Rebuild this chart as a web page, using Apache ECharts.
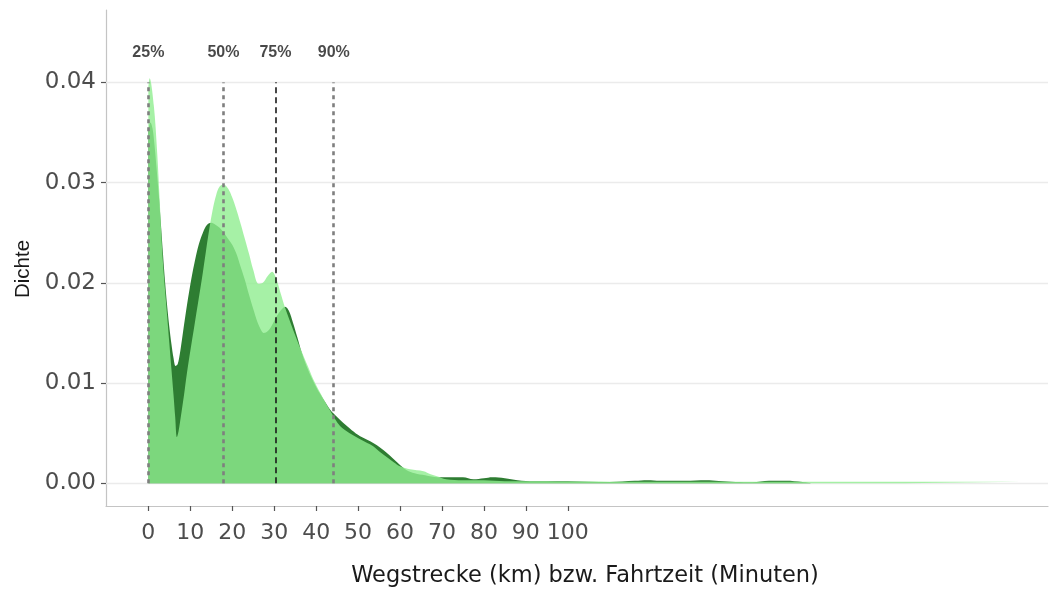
<!DOCTYPE html>
<html>
<head>
<meta charset="utf-8">
<script src="https://cdn.jsdelivr.net/npm/echarts@6/dist/echarts.min.js"></script>
<style>
  html, body { margin: 0; padding: 0; background: #ffffff; }
  #chart { width: 1051px; height: 593px; }
</style>
</head>
<body>
<div id="chart"></div>
<script>
// Kernel density of trip distance (dark) — [value, density]
const densityDark = [
  [0, 0.0352], [0.5, 0.0360], [1.0, 0.0354], [1.5, 0.0336], [2.0, 0.0312],
  [2.5, 0.0287], [3.0, 0.0258], [3.5, 0.0228], [4.0, 0.0200], [4.5, 0.0176],
  [5.0, 0.0156], [5.5, 0.0139], [6.0, 0.0125], [6.5, 0.0117], [7.0, 0.0119],
  [7.5, 0.0129], [8.0, 0.0143], [9.0, 0.0172], [10.0, 0.0198], [11.0, 0.0220],
  [12.0, 0.0238], [13.0, 0.0250], [14.0, 0.0258], [15.0, 0.0260], [16.0, 0.0258],
  [17.0, 0.0255], [18.0, 0.0250], [19.0, 0.0244], [20.0, 0.0238], [21.0, 0.0229],
  [22.0, 0.0216], [23.0, 0.0203], [24.0, 0.0188], [25.0, 0.0174], [26.0, 0.0161],
  [27.0, 0.0152], [27.5, 0.0150], [28.5, 0.0152], [29.5, 0.0158], [30.5, 0.0166],
  [31.5, 0.0172], [32.6, 0.0176], [33.5, 0.0172], [34.5, 0.0160], [35.5, 0.0146],
  [36.6, 0.0130], [38.0, 0.0114], [40.0, 0.0096], [42.0, 0.0082], [43.4, 0.0073],
  [45.0, 0.0066], [46.5, 0.0060], [48.5, 0.0053], [50.5, 0.0047], [52.9, 0.0042],
  [54.5, 0.0038], [56.1, 0.0033], [57.5, 0.0028], [59.3, 0.0021], [61.6, 0.0013],
  [63.5, 0.0010], [66, 0.0008], [69, 0.0006], [72, 0.0006], [75, 0.0006],
  [77.5, 0.0004], [80, 0.0005], [82, 0.0006], [85, 0.0005], [88, 0.0003],
  [92, 0.0002], [100, 0.0002], [110, 0.00012], [116, 0.00024], [119, 0.0003],
  [122, 0.00024], [128, 0.00024], [133, 0.0003], [136, 0.00022], [140, 0.00012],
  [144, 0.0001], [148, 0.00024], [152, 0.00024], [156, 0.00012], [158, 0]
];

// Kernel density of travel time (light) — [value, density]
const densityLight = [
  [0, 0.0395], [0.3, 0.0404], [1.3, 0.0377], [2.1, 0.0330], [2.7, 0.0282],
  [3.3, 0.0232], [3.8, 0.0202], [4.5, 0.0166], [5.0, 0.0140], [5.5, 0.0114],
  [6.0, 0.0088], [6.4, 0.0066], [6.8, 0.0046], [7.2, 0.0052], [7.8, 0.0068],
  [8.5, 0.0088], [9.2, 0.0110], [10.0, 0.0132], [11.0, 0.0158], [12.0, 0.0184],
  [12.8, 0.0205], [13.5, 0.0225], [14.2, 0.0245], [15.2, 0.0270], [16.2, 0.0288],
  [17.0, 0.0296], [17.9, 0.0298], [19.0, 0.0294], [20.0, 0.0285], [21.0, 0.0273],
  [22.0, 0.0259], [23.0, 0.0244], [24.0, 0.0229], [25.0, 0.0213], [26.3, 0.0199],
  [27.3, 0.0200], [28.5, 0.0207], [29.5, 0.0211], [30.5, 0.0204], [31.5, 0.0190],
  [32.6, 0.0175], [34.0, 0.0159], [36.2, 0.0135], [38.0, 0.0117], [39.4, 0.0103],
  [41.0, 0.0090], [43.4, 0.0072], [45.7, 0.0057], [48.0, 0.0050], [50.5, 0.0044],
  [53.6, 0.0037], [55.3, 0.0031], [56.9, 0.0026], [58.5, 0.0021], [60.0, 0.0017],
  [62.4, 0.0014], [65.6, 0.0012], [67.3, 0.0009], [68.8, 0.0007], [71, 0.0004],
  [75, 0.0003], [80, 0.0003], [85, 0.0002], [90, 0.0002], [100, 0.00018],
  [120, 0.00016], [150, 0.00016], [180, 0.00015], [207.8, 0.00015]
];

// Quantile markers
const quantileValues = [0, 17.9, 30.3, 44.2];
const quantileLabels = ['25%', '50%', '75%', '90%'];
const quantileLabelY = 0.0430;
const quantileTop = 0.04;

// Axis ticks
const xTicks = [0, 10, 20, 30, 40, 50, 60, 70, 80, 90, 100];
const yTicks = [0, 0.01, 0.02, 0.03, 0.04];

const wideFont = 'DejaVu Sans';
const narrowFont = 'Liberation Sans';

const quantileStyles = quantileLabels.map(function (q) {
  return q === '75%'
    ? { color: '#1a1a1a', width: 1.6, type: [6, 4] }
    : { color: '#7f7f7f', width: 2.6, type: [4, 4] };
});

const chart = echarts.init(document.getElementById('chart'), null, { renderer: 'canvas' });

chart.setOption({
  animation: false,
  backgroundColor: '#ffffff',
  grid: { left: 106, right: 3, top: 10, bottom: 81.5, containLabel: false },
  xAxis: {
    type: 'value',
    min: -10.1,
    max: 214.5,
    name: 'Wegstrecke (km) bzw. Fahrtzeit (Minuten)',
    nameLocation: 'middle',
    nameGap: 59,
    nameTextStyle: { fontFamily: wideFont, fontSize: 22.5, color: '#1a1a1a', padding: [0, 0, 0, 16] },
    axisLine: { onZero: false, lineStyle: { color: '#c4c4c4', width: 1.2 } },
    axisTick: { show: true, length: 5, customValues: xTicks, lineStyle: { color: '#555555', width: 1.2 } },
    axisLabel: {
      customValues: xTicks,
      margin: 16,
      fontFamily: wideFont,
      fontSize: 22,
      color: '#4d4d4d'
    },
    splitLine: { show: false }
  },
  yAxis: {
    type: 'value',
    min: -0.00227,
    max: 0.04722,
    name: 'Dichte',
    nameLocation: 'middle',
    nameGap: 72,
    nameRotate: 90,
    nameTextStyle: { fontFamily: narrowFont, fontSize: 20.5, color: '#1a1a1a', padding: [0, 22, 0, 0] },
    axisLine: { onZero: false, lineStyle: { color: '#c4c4c4', width: 1.2 } },
    axisTick: { show: true, length: 5, customValues: yTicks, lineStyle: { color: '#555555', width: 1.2 } },
    axisLabel: {
      customValues: yTicks,
      margin: 10,
      fontFamily: wideFont,
      fontSize: 23,
      color: '#4d4d4d',
      formatter: function (v) { return v.toFixed(2); }
    },
    splitLine: { show: false }
  },
  series: [
    {
      // horizontal grid lines at the y ticks, kept beneath the areas
      name: 'grid',
      type: 'line',
      data: [],
      z: 1,
      silent: true,
      markLine: {
        z: 1,
        silent: true,
        symbol: 'none',
        label: { show: false },
        lineStyle: { color: '#ebebeb', width: 1.3, type: 'solid' },
        data: yTicks.map(function (v) { return { yAxis: v }; })
      }
    },
    {
      name: 'Wegstrecke',
      type: 'line',
      data: densityDark,
      z: 2,
      smooth: 0.35,
      showSymbol: false,
      lineStyle: { width: 0 },
      areaStyle: { color: '#2e7d32', opacity: 1 }
    },
    {
      name: 'Fahrtzeit',
      type: 'line',
      data: densityLight,
      z: 3,
      smooth: 0.35,
      showSymbol: false,
      lineStyle: { width: 0 },
      areaStyle: { color: '#90ee90', opacity: 0.8 }
    },
    {
      name: 'Quantile',
      type: 'scatter',
      z: 5,
      symbolSize: 0,
      silent: true,
      data: quantileValues.map(function (v, i) {
        return { value: [v, quantileLabelY], name: quantileLabels[i] };
      }),
      label: {
        show: true,
        position: 'inside',
        formatter: '{b}',
        fontFamily: narrowFont,
        fontWeight: 'bold',
        fontSize: 16,
        color: '#1a1a1a'
      },
      markLine: {
        z: 5,
        silent: true,
        symbol: 'none',
        label: { show: false },
        data: quantileValues.map(function (v, i) {
          return [
            { coord: [v, 0], lineStyle: quantileStyles[i] },
            { coord: [v, quantileTop] }
          ];
        })
      }
    }
  ]
});
</script>
</body>
</html>
